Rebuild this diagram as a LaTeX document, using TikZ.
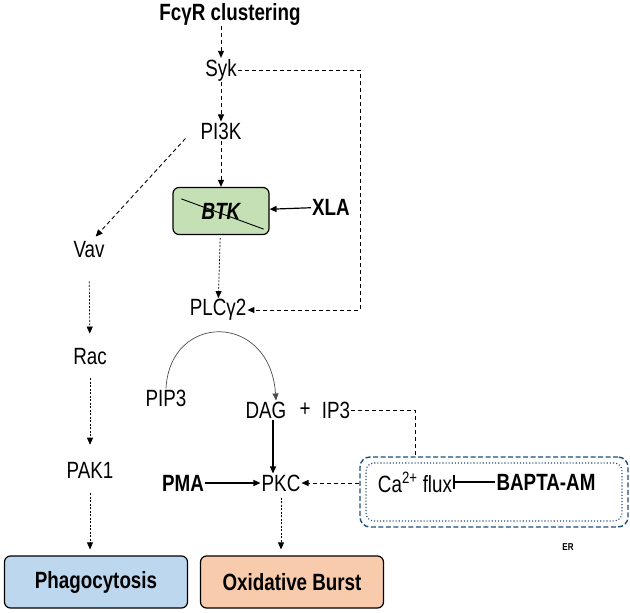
\documentclass[tikz,border=0pt]{standalone}
\usepackage{fontspec}
\setmainfont{Liberation Sans}[FakeStretch=0.8]
\usetikzlibrary{arrows.meta, positioning}

\definecolor{btkgreen}{HTML}{C5E0B4}
\definecolor{phagoblue}{HTML}{BDD7EE}
\definecolor{burstorange}{HTML}{F8CBAD}
\definecolor{erblue}{HTML}{1F4E79}

\tikzset{
	txt/.style={font=\fontsize{23.5}{26}\selectfont, inner sep=1pt},
	bold txt/.style={font=\bfseries\fontsize{23.5}{26}\selectfont, inner sep=1pt},
	dsh/.style={dash pattern=on 4pt off 3pt, line width=0.9pt, -{Triangle[length=7pt,width=6pt]}},
	fine/.style={dash pattern=on 2pt off 1.5pt, line width=0.7pt, -{Triangle[length=7pt,width=6pt]}},
	act/.style={line width=1.2pt, -{Triangle[length=7pt,width=6pt]}},
	endbox/.style={draw, rounded corners=6pt, line width=1.2pt, minimum width=183pt, minimum height=52pt, font=\bfseries\fontsize{23.5}{26}\selectfont}
}

\begin{document}
\begin{tikzpicture}[x=1pt, y=-1pt]
		\useasboundingbox (0,0) rectangle (630,613);

		% Receptor and kinases
		\node[bold txt] (fcr) at (230,14) {FcγR clustering};
		\node[txt] (syk) at (221,70) {Syk};
		\node[txt] (pi3k) at (221,131) {PI3K};
		\node[draw, fill=btkgreen, rounded corners=6pt, line width=1.2pt, minimum width=96pt, minimum height=47pt, font=\bfseries\itshape\fontsize{23.5}{26}\selectfont] (btk) at (221,211) {BTK};
		\draw[line width=0.9pt] ([shift={(9pt,-12pt)}]btk.north west) -- ([shift={(-6pt,6pt)}]btk.south east);
		\node[bold txt] (xla) at (331,207) {XLA};
		\node[txt] (plc) at (218,310) {PLCγ2};

		% Phagocytosis branch
		\node[txt] (vav) at (89,250) {Vav};
		\node[txt] (rac) at (90,357) {Rac};
		\node[txt] (pak1) at (90,470) {PAK1};

		% Second messengers
		\node[txt] (pip3) at (166,398) {PIP3};
		\node[txt] (dag) at (266,410) {DAG};
		\node[txt] (plus) at (305,410) {+};
		\node[txt] (ip3) at (336,410) {IP3};
		\node[bold txt] (pma) at (183,483) {PMA};
		\node[txt] (pkc) at (281,483) {PKC};

		% ER calcium store
		\node[draw=erblue, dash pattern=on 5pt off 2.5pt, line width=1.4pt, rounded corners=10pt, minimum width=268pt, minimum height=70pt] (er) at (494,492) {};
		\node[draw=erblue, dotted, line width=1.1pt, rounded corners=8pt, minimum width=256pt, minimum height=58pt] (erin) at (494,492) {};
		\node[txt] (flux) at (415,482) {Ca\textsuperscript{2+} flux};
		\node[bold txt] (bapta) at (546,482) {BAPTA-AM};
		\node[font=\bfseries\fontsize{10}{12}\selectfont] (erlabel) at (568,547) {ER};

		% Outcomes
		\node[endbox, fill=phagoblue] (phago) at (96,582) {Phagocytosis};
		\node[endbox, fill=burstorange] (burst) at (292,582) {Oxidative Burst};

		% Signalling arrows
		\draw[dsh] (syk.north |- fcr.south) -- (syk.north);
		\draw[dsh] (syk) -- (pi3k);
		\draw[dsh] (pi3k) -- (btk);
		\draw[dsh] ([shift={(-14pt,2pt)}]pi3k.south west) -- ([shift={(-10pt,4pt)}]vav.north east);
		\draw[fine, shorten <=3pt] (btk) -- (plc);
		\coordinate (sykturn) at (360,70);
		\draw[dsh] (syk.east) -- (sykturn) |- (plc.east);
		\draw[act] (xla) -- (btk);

		\draw[fine, shorten <=22pt, shorten >=14pt] (vav) -- (rac);
		\draw[fine, shorten <=12pt, shorten >=16pt] (rac) -- (pak1);
		\draw[fine, shorten <=14pt, shorten >=6pt] (pak1) -- (pak1 |- phago.north);
		\draw[fine, shorten <=5pt, shorten >=6pt] (pkc) -- (pkc |- burst.north);

		% PLC cleaves PIP3
		\draw[gray!60!black, line width=0.7pt, -{Triangle[length=7pt,width=6pt]}] (pip3.north) .. controls (170,312) and (270,312) .. ([xshift=10pt]dag.north);
		\draw[act] ([xshift=7pt]dag.south) -- ([xshift=7pt]dag.south |- pkc.north);
		\draw[act] (pma) -- (pkc);

		% Calcium
		\coordinate (ipturn) at (415,410);
		\draw[dash pattern=on 4pt off 3pt, line width=0.9pt] (ip3.east) -- (ipturn) -- (ipturn |- er.north);
		\draw[dsh] (er.west |- pkc) -- (pkc.east);
		\draw[line width=1.6pt, {Bar[width=14pt]}-] (flux.east) -- (bapta.west);

	\end{tikzpicture}
\end{document}
